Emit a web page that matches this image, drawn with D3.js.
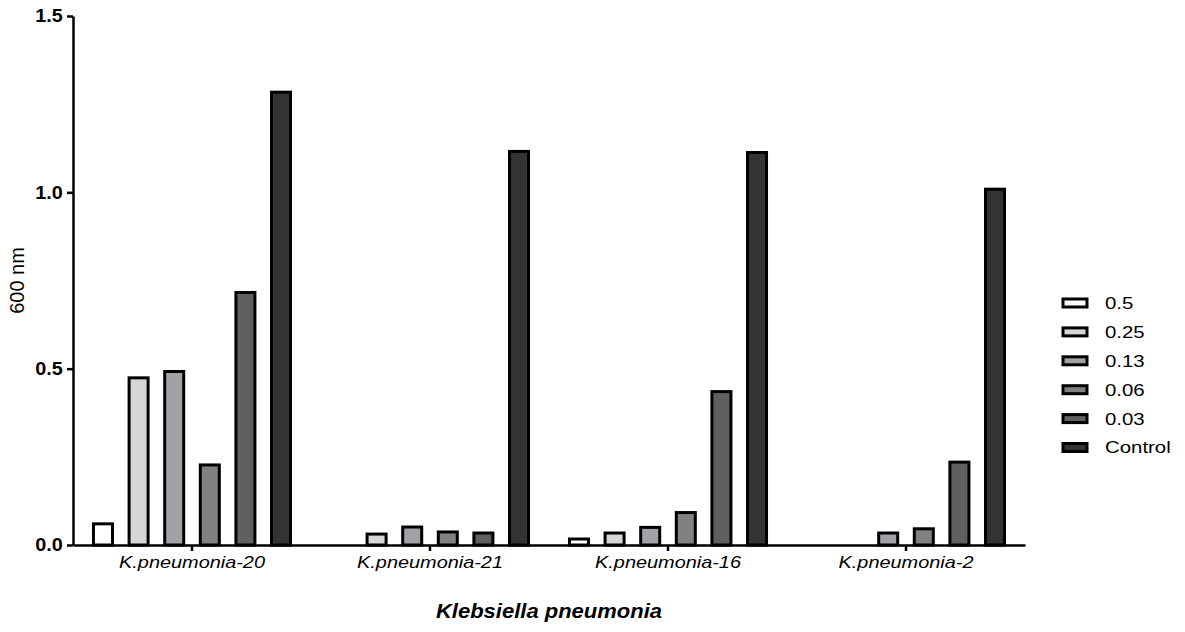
<!DOCTYPE html>
<html>
<head>
<meta charset="utf-8">
<script src="https://cdn.jsdelivr.net/npm/d3@7"></script>
<style>
  body { margin: 0; background: #fff; }
  svg { display: block; font-family: "Liberation Sans", Arial, sans-serif; }
</style>
</head>
<body>
<svg id="chart" width="1185" height="632"></svg>
<script>
const groups = ["K.pneumonia-20", "K.pneumonia-21", "K.pneumonia-16", "K.pneumonia-2"];
const series = ["0.5", "0.25", "0.13", "0.06", "0.03", "Control"];
const colors = ["#ffffff", "#d6d6d6", "#a1a1a6", "#818181", "#606060", "#333333"];
const values = [
  [0.060, 0.474, 0.492, 0.227, 0.716, 1.284],
  [0.000, 0.031, 0.051, 0.037, 0.034, 1.116],
  [0.017, 0.034, 0.050, 0.092, 0.435, 1.113],
  [0.000, 0.000, 0.034, 0.046, 0.235, 1.009]
];
const yTicks = [0, 0.5, 1.0, 1.5];

const svg = d3.select("#chart");
const plotLeft = 73, plotRight = 1025, plotTop = 16, plotBottom = 545;
const FONT = "Liberation Sans, Arial, sans-serif";

const x0 = d3.scaleBand().domain(groups).range([plotLeft, plotRight]).padding(0);
const x1 = d3.scaleBand().domain(series).range([0, x0.bandwidth()])
  .paddingInner(0.466).paddingOuter(0.575);
const y = d3.scaleLinear().domain([0, 1.5]).range([plotBottom, plotTop]);
const color = d3.scaleOrdinal().domain(series).range(colors);

// bars
const g = svg.append("g");
groups.forEach((grp, gi) => {
  const gg = g.append("g").attr("transform", `translate(${x0(grp)},0)`);
  series.forEach((s, si) => {
    const v = values[gi][si];
    if (v <= 0) return;
    gg.append("rect")
      .attr("x", x1(s))
      .attr("y", y(v))
      .attr("width", x1.bandwidth())
      .attr("height", y(0) - y(v))
      .attr("fill", color(s))
      .attr("stroke", "#000")
      .attr("stroke-width", 3);
  });
});

// y axis
const yAxis = svg.append("g")
  .attr("transform", `translate(${plotLeft},0)`)
  .call(d3.axisLeft(y).tickValues(yTicks).tickFormat(d3.format(".1f")).tickSize(6).tickSizeOuter(0));
yAxis.select(".domain").attr("stroke-width", 2.5);
yAxis.selectAll(".tick line").attr("stroke-width", 2.5);
yAxis.selectAll(".tick text")
  .attr("font-size", 18).attr("font-weight", "bold").attr("fill", "#000")
  .attr("font-family", FONT)
  .attr("x", -9.3)
  .attr("transform", "scale(1.1,1)");

// x axis
const xAxis = svg.append("g")
  .attr("transform", `translate(0,${plotBottom})`)
  .call(d3.axisBottom(x0).tickSize(6).tickSizeOuter(0).tickPadding(5));
xAxis.select(".domain").attr("stroke-width", 2.5);
xAxis.selectAll(".tick line").attr("stroke-width", 2.5);
xAxis.selectAll(".tick text")
  .attr("font-size", 17).attr("font-style", "italic").attr("fill", "#000")
  .attr("font-family", FONT)
  .attr("transform", "scale(1.17,1)");

// axis titles
svg.append("text")
  .attr("transform", `translate(24,${(plotTop + plotBottom) / 2}) rotate(-90)`)
  .attr("text-anchor", "middle")
  .attr("font-size", 20)
  .text("600 nm");

svg.append("text")
  .attr("transform", `translate(${(plotLeft + plotRight) / 2},618) scale(1.1,1)`)
  .attr("text-anchor", "middle")
  .attr("font-size", 20)
  .attr("font-weight", "bold")
  .attr("font-style", "italic")
  .text("Klebsiella pneumonia");

// legend
const legend = svg.append("g").attr("transform", "translate(1063,303)");
series.forEach((s, i) => {
  const row = legend.append("g").attr("transform", `translate(0,${i * 28.9})`);
  row.append("rect")
    .attr("x", 0).attr("y", -4)
    .attr("width", 24).attr("height", 8)
    .attr("fill", color(s))
    .attr("stroke", "#000")
    .attr("stroke-width", 3);
  row.append("text")
    .attr("transform", "translate(42,0) scale(1.2,1)")
    .attr("dy", "0.35em")
    .attr("font-size", 17)
    .text(s);
});
</script>
</body>
</html>
